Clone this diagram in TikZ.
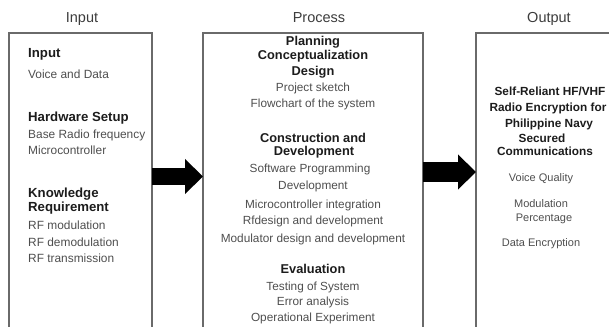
\documentclass[tikz,border=0pt]{standalone}
\usepackage{fontspec}
\setmainfont{Liberation Sans}
\usetikzlibrary{arrows.meta}
\definecolor{framegray}{HTML}{6A6A6A}
\definecolor{textgray}{HTML}{4E4E4E}
\definecolor{headblack}{HTML}{1C1C1C}
\definecolor{titlegray}{HTML}{3C3C3C}
\tikzset{
  frame/.style={draw=framegray, line width=1.1pt, fill=none, inner sep=0pt, outer sep=0pt, anchor=north west},
  title/.style={text=titlegray, font=\fontsize{14.5}{16}\selectfont, inner sep=0pt, anchor=mid, yshift=-2pt},
  lhead/.style={text=headblack, font=\bfseries\fontsize{13.2}{15}\selectfont, inner sep=0pt, anchor=mid west, yshift=-1.5pt},
  ltext/.style={text=textgray, font=\fontsize{11.9}{14}\selectfont, inner sep=0pt, anchor=mid west, yshift=-1.5pt},
  phead/.style={text=headblack, font=\bfseries\fontsize{12.8}{15}\selectfont, inner sep=0pt, anchor=mid, yshift=-1.5pt},
  ptext/.style={text=textgray, font=\fontsize{11.8}{14}\selectfont, inner sep=0pt, anchor=mid, yshift=-1.5pt},
  ohead/.style={text=headblack, font=\bfseries\fontsize{11.8}{14}\selectfont, inner sep=0pt, anchor=mid, yshift=-1.5pt},
  otext/.style={text=textgray, font=\fontsize{11}{13}\selectfont, inner sep=0pt, anchor=mid, yshift=-1.5pt},
  blockarrow/.style={draw=black, line cap=butt, -{Triangle[length=18pt,width=34pt]}}
}
\begin{document}
\begin{tikzpicture}[x=1pt,y=-1pt]
\useasboundingbox (0,0) rectangle (609,326);
\begin{scope}
\clip (0,0) rectangle (609,326);
% boxes
\node[frame, minimum width=143pt, minimum height=320pt] (inbox) at (9,33) {};
\node[frame, minimum width=220pt, minimum height=320pt] (procbox) at (203,33) {};
\node[frame, minimum width=180pt, minimum height=320pt] (outbox) at (476,33) {};
% titles
\node[title] (tin) at (82,18) {Input};
\node[title] (tproc) at (319,18) {Process};
\node[title] (tout) at (549,18) {Output};
% arrows
\coordinate (h1) at (0,176.5);
\coordinate (h2) at (0,172);
\draw[blockarrow, line width=17pt] (inbox.east |- h1) -- (procbox.west |- h1);
\draw[blockarrow, line width=20pt] (procbox.east |- h2) -- (outbox.west |- h2);
% input column
\node[lhead] (i1) at (28,53) {Input};
\node[ltext] (i2) at (28,74) {Voice and Data};
\node[lhead] (i3) at (28,117) {Hardware Setup};
\node[ltext] (i4) at (28,134) {Base Radio frequency};
\node[ltext] (i5) at (28,150) {Microcontroller};
\node[lhead] (i6) at (28,193) {Knowledge};
\node[lhead] (i7) at (28,207) {Requirement};
\node[ltext] (i8) at (28,225) {RF modulation};
\node[ltext] (i9) at (28,242) {RF demodulation};
\node[ltext] (i10) at (28,258) {RF transmission};
% process column
\node[phead] (p1) at (313,41) {Planning};
\node[phead] (p2) at (313,55) {Conceptualization};
\node[phead] (p3) at (313,71) {Design};
\node[ptext] (p4) at (313,87) {Project sketch};
\node[ptext] (p5) at (313,103) {Flowchart of the system};
\node[phead] (p6) at (313,138) {Construction and};
\node[phead] (p7) at (314,151) {Development};
\node[ptext] (p8) at (310,168) {Software Programming};
\node[ptext] (p9) at (313,185) {Development};
\node[ptext] (p10) at (313,204) {Microcontroller integration};
\node[ptext] (p11) at (313,220) {Rfdesign and development};
\node[ptext] (p12) at (313,238) {Modulator design and development};
\node[phead] (p13) at (313,269) {Evaluation};
\node[ptext] (p14) at (313,286) {Testing of System};
\node[ptext] (p15) at (313,301) {Error analysis};
\node[ptext] (p16) at (313,317) {Operational Experiment};
% output column
\node[ohead] (o1) at (550,91) {Self-Reliant HF/VHF};
\node[ohead] (o2) at (548,107) {Radio Encryption for};
\node[ohead] (o3) at (549,123) {Philippine Navy};
\node[ohead] (o4) at (542,138) {Secured};
\node[ohead] (o5) at (545,151) {Communications};
\node[otext] (o6) at (541,177) {Voice Quality};
\node[otext] (o7) at (541,203) {Modulation};
\node[otext] (o8) at (544,217) {Percentage};
\node[otext] (o9) at (541,242) {Data Encryption};
\end{scope}
\end{tikzpicture}
\end{document}
